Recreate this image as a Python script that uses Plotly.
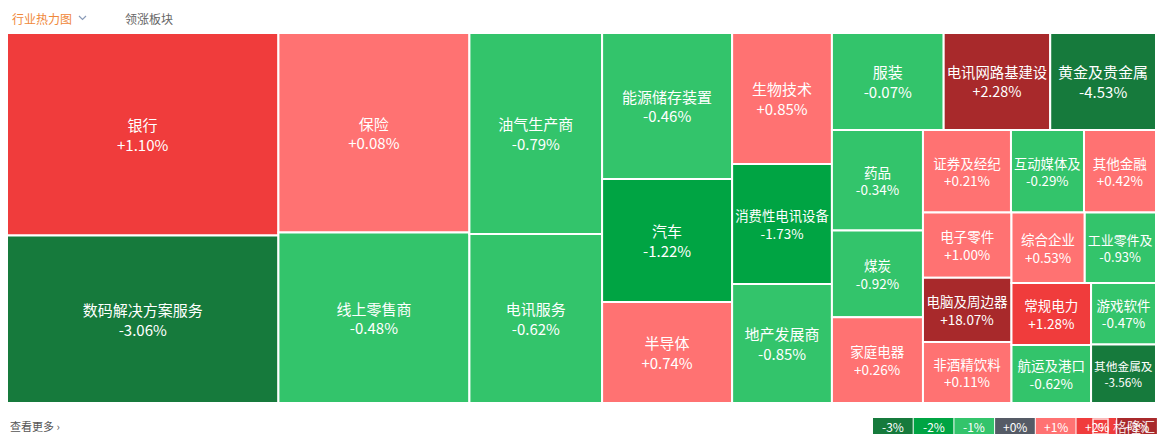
import plotly.graph_objects as go

W, H = 1168, 447
ML, MR, MT, MB = 7, 12, 33, 44

names = ["银行", "数码解决方案服务", "保险", "线上零售商", "油气生产商", "电讯服务",
         "能源储存装置", "汽车", "半导体", "生物技术", "消费性电讯设备", "地产发展商",
         "服装", "电讯网路基建设", "黄金及贵金属", "药品", "煤炭", "家庭电器",
         "证券及经纪", "互动媒体及", "其他金融", "电子零件", "电脑及周边器", "非酒精饮料",
         "综合企业", "工业零件及", "常规电力", "航运及港口", "游戏软件", "其他金属及"]
changes = [1.10, -3.06, 0.08, -0.48, -0.79, -0.62,
           -0.46, -1.22, 0.74, 0.85, -1.73, -0.85,
           -0.07, 2.28, -4.53, -0.34, -0.92, 0.26,
           0.21, -0.29, 0.42, 1.00, 18.07, 0.11,
           0.53, -0.93, 1.28, -0.62, -0.47, -3.56]
# tile weights, estimated from the tile areas
sizes = [54540, 45090, 37810, 32300, 26450, 22250,
         18834, 15867, 13029, 12969, 11880, 11781,
         10752, 10250, 10176, 9090, 7830, 7740,
         7216, 5986, 5904, 5720, 5632, 5368,
         5110, 4970, 4898, 4582, 3965, 3770]

legend_labels = ["-3%", "-2%", "-1%", "+0%", "+1%", "+2%", "+3%"]
legend_colors = ["#167a3c", "#00a443", "#33c46b", "#555b66", "#ff7272", "#f03c3c", "#a8292b"]


def tile_color(v):
    if v > 2:
        return legend_colors[6]
    if v > 1:
        return legend_colors[5]
    if v > 0:
        return legend_colors[4]
    if v == 0:
        return legend_colors[3]
    if v >= -1:
        return legend_colors[2]
    if v >= -2:
        return legend_colors[1]
    return legend_colors[0]


def px2x(px):
    return (px - ML) / (W - ML - MR)


def py2y(py):
    return 1 - (py - MT) / (H - MT - MB)


FONT = "Microsoft YaHei, Noto Sans CJK SC, sans-serif"

fig = go.Figure(go.Treemap(
    labels=names,
    parents=[""] * len(names),
    values=sizes,
    text=[f"{v:+.2f}%" for v in changes],
    texttemplate="%{label}<br>%{text}",
    textposition="middle center",
    textfont=dict(family=FONT, size=[15 if s > 9500 else 13.5 for s in sizes], color="white"),
    marker=dict(colors=[tile_color(v) for v in changes],
                line=dict(color="white", width=2),
                pad=dict(t=0, l=0, r=0, b=0)),
    tiling=dict(packing="squarify", squarifyratio=1, pad=0),
    pathbar=dict(visible=False),
    sort=True,
    hoverinfo="label+text",
))

shapes = []
annotations = []

# header tabs
annotations.append(dict(x=px2x(10), y=py2y(19), xref="paper", yref="paper",
                        text="行业热力图", showarrow=False, xanchor="left", yanchor="middle",
                        font=dict(family=FONT, size=12, color="#f0883a")))
annotations.append(dict(x=px2x(123), y=py2y(19), xref="paper", yref="paper",
                        text="领涨板块", showarrow=False, xanchor="left", yanchor="middle",
                        font=dict(family=FONT, size=12, color="#666666")))
shapes.append(dict(type="path", xref="paper", yref="paper",
                   path=f"M {px2x(79)} {py2y(16)} L {px2x(82.5)} {py2y(19.5)} L {px2x(86)} {py2y(16)}",
                   line=dict(color="#8a9bb8", width=1.2)))

# footer link
annotations.append(dict(x=px2x(8), y=py2y(426), xref="paper", yref="paper",
                        text="查看更多 ›", showarrow=False, xanchor="left", yanchor="middle",
                        font=dict(family=FONT, size=11, color="#555555")))

# colour scale boxes
x0 = 873
for i, (lab, col) in enumerate(zip(legend_labels, legend_colors)):
    left = x0 + i * 40.7
    shapes.append(dict(type="rect", xref="paper", yref="paper",
                       x0=px2x(left), x1=px2x(left + 39.7), y0=py2y(434), y1=py2y(418),
                       fillcolor=col, line=dict(width=0)))
    annotations.append(dict(x=px2x(left + 20), y=py2y(426), xref="paper", yref="paper",
                            text=lab, showarrow=False, xanchor="center", yanchor="middle",
                            font=dict(family=FONT, size=12, color="white")))

# watermark
shapes.append(dict(type="rect", xref="paper", yref="paper",
                   x0=px2x(1093), x1=px2x(1108), y0=py2y(434), y1=py2y(419),
                   line=dict(color="rgba(255,255,255,0.85)", width=1.5)))
annotations.append(dict(x=px2x(1100.5), y=py2y(426.5), xref="paper", yref="paper",
                        text="G", showarrow=False, xanchor="center", yanchor="middle",
                        font=dict(family=FONT, size=10, color="rgba(255,255,255,0.9)")))
annotations.append(dict(x=px2x(1111), y=py2y(426.5), xref="paper", yref="paper",
                        text="格隆汇", showarrow=False, xanchor="left", yanchor="middle",
                        font=dict(family=FONT, size=14, color="rgba(255,255,255,0.85)")))

fig.update_layout(
    width=W, height=H,
    margin=dict(l=ML, r=MR, t=MT, b=MB),
    paper_bgcolor="white",
    shapes=shapes,
    annotations=annotations,
    uniformtext=dict(minsize=10),
)

fig.write_html("out.html", config={"displayModeBar": False},
               post_script="document.body.style.margin='0px';")
